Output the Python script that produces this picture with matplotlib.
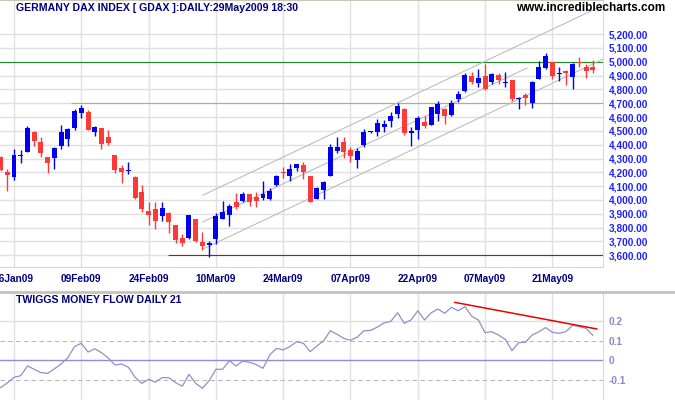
import numpy as np
import matplotlib
matplotlib.use('Agg')
import matplotlib.pyplot as plt
from matplotlib.lines import Line2D

# daily DAX bars, from 22 Jan 2009 up to 29 May 2009
opens = [4311, 4203, 4169, 4320, 4349, 4492, 4420, 4309, 4304, 4390,
         4441, 4523, 4631, 4636, 4494, 4521, 4456, 4325, 4231, 4210,
         4166, 4058, 3921, 3935, 3887, 3906, 3819, 3725, 3723, 3863,
         3694, 3677, 3720, 3865, 3892, 3986, 3993, 4044, 4020, 4017,
         4007, 4111, 4203, 4174, 4229, 4251, 4174, 4009, 4072, 4174,
         4354, 4419, 4364, 4291, 4398, 4490, 4494, 4530, 4571, 4624,
         4658, 4487, 4508, 4564, 4545, 4624, 4658, 4615, 4732, 4788,
         4897, 4848, 4899, 4853, 4902, 4845, 4868, 4730, 4757, 4704,
         4877, 4957, 4998, 4909, 4933, 4889, 4998, 4962, 4962]
highs = [4315, 4224, 4369, 4362, 4535, 4497, 4456, 4311, 4381, 4542,
         4521, 4658, 4689, 4649, 4535, 4521, 4506, 4325, 4255, 4275,
         4170, 4108, 3983, 3983, 3986, 3910, 3820, 3752, 3895, 3865,
         3767, 3706, 3906, 3993, 3971, 4049, 4056, 4044, 4060, 4138,
         4089, 4183, 4237, 4260, 4262, 4275, 4176, 4096, 4140, 4403,
         4453, 4453, 4381, 4374, 4511, 4500, 4584, 4578, 4638, 4701,
         4667, 4530, 4607, 4605, 4672, 4716, 4665, 4723, 4790, 4916,
         4926, 4947, 4983, 4918, 4916, 4923, 4870, 4747, 4772, 4863,
         5005, 5063, 5000, 4960, 4940, 4991, 5036, 4981, 5010]
lows = [4210, 4067, 4145, 4270, 4345, 4393, 4313, 4197, 4224, 4367,
        4390, 4508, 4593, 4508, 4463, 4369, 4398, 4195, 4123, 4190,
        4010, 3916, 3819, 3790, 3848, 3764, 3689, 3668, 3718, 3699,
        3641, 3589, 3684, 3863, 3810, 3935, 3986, 3955, 3952, 4000,
        4000, 4104, 4161, 4140, 4212, 4154, 3984, 4007, 4005, 4174,
        4338, 4306, 4277, 4234, 4381, 4488, 4465, 4490, 4530, 4595,
        4468, 4393, 4443, 4518, 4543, 4573, 4547, 4607, 4711, 4781,
        4837, 4819, 4793, 4839, 4837, 4819, 4716, 4656, 4689, 4663,
        4877, 4947, 4875, 4860, 4832, 4803, 4960, 4882, 4916]
closes = [4217, 4183, 4325, 4326, 4523, 4429, 4342, 4268, 4376, 4492,
          4516, 4646, 4665, 4508, 4528, 4405, 4410, 4217, 4203, 4216,
          4017, 3935, 3894, 3850, 3940, 3843, 3713, 3691, 3892, 3701,
          3670, 3687, 3882, 3913, 3955, 3952, 4044, 3988, 3995, 4044,
          4065, 4174, 4193, 4224, 4260, 4203, 3986, 4087, 4130, 4383,
          4381, 4347, 4318, 4354, 4492, 4495, 4557, 4552, 4607, 4682,
          4487, 4501, 4591, 4535, 4670, 4696, 4610, 4699, 4766, 4904,
          4853, 4882, 4803, 4911, 4868, 4853, 4730, 4738, 4740, 4853,
          4962, 5041, 4899, 4918, 4920, 4986, 4993, 4933, 4940]

# Twiggs Money Flow (21) for the same bars
money_flow = [-0.140, -0.116, -0.087, -0.079, -0.029, -0.046, -0.063, -0.067, -0.044, -0.019,
              0.013, 0.070, 0.087, 0.042, 0.059, 0.039, 0.012, -0.024, -0.019, -0.036,
              -0.087, -0.118, -0.097, -0.112, -0.089, -0.089, -0.114, -0.133, -0.072, -0.118,
              -0.143, -0.104, -0.046, -0.046, -0.002, -0.029, -0.004, -0.010, -0.022, -0.041,
              0.027, 0.061, 0.053, 0.070, 0.095, 0.087, 0.044, 0.073, 0.099, 0.151,
              0.133, 0.112, 0.102, 0.118, 0.151, 0.153, 0.170, 0.191, 0.199, 0.243,
              0.189, 0.206, 0.253, 0.206, 0.243, 0.262, 0.240, 0.271, 0.253, 0.274,
              0.226, 0.206, 0.141, 0.146, 0.129, 0.107, 0.049, 0.090, 0.092, 0.129,
              0.146, 0.167, 0.143, 0.138, 0.146, 0.179, 0.172, 0.163, 0.128]

tick_labels = ['26Jan09', '09Feb09', '24Feb09', '10Mar09', '24Mar09',
               '07Apr09', '22Apr09', '07May09', '21May09']
first_tick = 2   # bar of the first date label
tick_step = 10

# horizontal support / resistance lines: price, first bar, colour
levels = [5000, 4700, 3600]
level_start = [-1, 10.5, 24.9]
level_colors = ['#1f8a2a', '#f5a020', '#e00000']

# trend channel (bar, price) end points
channel_bars = [[30.04, 89.6], [30.04, 78.2], [30.04, 89.6]]
channel_prices = [[4034, 5410], [3841, 4954], [3644, 5020]]

# divergence line on the money flow
tmf_trend_bars = [67.5, 88.6]
tmf_trend_vals = [0.296, 0.160]

W, H = 675, 400
FONT = 'Liberation Sans'
GRID = '#e0e0e0'

fig = plt.figure(figsize=(W / 100, H / 100), dpi=100)
fig.patch.set_facecolor('white')

x = np.arange(len(closes))
o = np.array(opens)
c = np.array(closes)
up = c >= o
col = np.where(up, '#0000f0', '#ff3838')
body_lo = np.minimum(o, c)
body_h = np.maximum(np.abs(c - o), 7)
xmin, xmax = -0.08, 89.52
ticks = first_tick + tick_step * np.arange(len(tick_labels))

# ---- price panel
ax = fig.add_axes([0, 133.3 / H, 603 / W, 266.7 / H])
ax.set_xlim(xmin, xmax)
ax.set_ylim(3517.6, 5446.2)
ax.set_xticks(ticks)
ax.set_xticklabels(tick_labels)
ax.set_yticks(np.arange(3600, 5201, 100))
ax.set_yticklabels([f'{v:,.2f}' for v in np.arange(3600, 5201, 100)])
ax.yaxis.tick_right()
ax.tick_params(axis='y', length=0, pad=4, labelsize=7.3, labelcolor='#2222ff')
ax.tick_params(axis='x', length=0, pad=5, labelsize=7.3, labelcolor='#000080')
for lab in ax.get_xticklabels() + ax.get_yticklabels():
    lab.set_fontfamily(FONT)
    lab.set_fontweight('bold')
ax.grid(True, color=GRID, linewidth=1.0)
ax.set_axisbelow(True)
ax.spines['left'].set_visible(False)
for side in ['right', 'bottom']:
    ax.spines[side].set_color('#d8d8d8')
ax.spines['top'].set_color('#c8c8b8')
ax.spines['top'].set_linewidth(1.5)

for lvl, start, lc in zip(levels, level_start, level_colors):
    ax.hlines(lvl, start, xmax + 1, color=lc, linewidth=0.8, zorder=2)
for bx, by in zip(channel_bars, channel_prices):
    ax.plot(bx, by, color='#bababa', linewidth=0.75, zorder=2)

ax.vlines(x, lows, highs, color=col, linewidth=1.0, zorder=3)
ax.bar(x, body_h, bottom=body_lo, width=0.74, color=col, linewidth=0, zorder=4)

ax.text(16 / 603, 1 - 8 / 266.7, 'GERMANY DAX INDEX [ GDAX ]:DAILY:29May2009 18:30',
        transform=ax.transAxes, ha='left', va='center', fontsize=7.6,
        fontweight='bold', color='#000080', family=FONT)
fig.text(665 / W, 1 - 8 / H, 'www.incrediblecharts.com', ha='right', va='center',
         fontsize=8.5, fontweight='bold', color='black', family=FONT)

# separator between panels
fig.add_artist(Line2D([0, 1], [1 - 291.7 / H] * 2, color='#c4c4b8', linewidth=2))

# ---- money flow panel
ax2 = fig.add_axes([0, 0, 603 / W, 108 / H])
ax2.set_xlim(xmin, xmax)
ax2.set_ylim(-0.203, 0.349)
ax2.set_xticks(ticks)
ax2.set_xticklabels([])
ax2.set_yticks([0.2, 0.1, 0, -0.1])
ax2.set_yticklabels(['0.2', '0.1', '0', '-0.1'])
ax2.yaxis.tick_right()
ax2.tick_params(axis='y', length=0, pad=4, labelsize=7.3, labelcolor='#8a8ac8')
ax2.tick_params(axis='x', length=0)
for lab in ax2.get_yticklabels():
    lab.set_fontfamily(FONT)
    lab.set_fontweight('bold')
ax2.grid(True, axis='x', color=GRID, linewidth=1.0)
ax2.set_axisbelow(True)
for side in ['left', 'top', 'bottom']:
    ax2.spines[side].set_visible(False)
ax2.spines['right'].set_color('#d8d8d8')
ax2.axhline(0.2, color=GRID, linewidth=1.0, zorder=1)
ax2.axhline(0.1, color='#b8b8b8', linewidth=0.8, linestyle=(0, (4, 3)), zorder=1)
ax2.axhline(-0.1, color='#b8b8b8', linewidth=0.8, linestyle=(0, (4, 3)), zorder=1)
ax2.axhline(0, color='#8e8ed0', linewidth=1.0, zorder=1)

ax2.plot(x, money_flow, color='#9090c8', linewidth=0.9, zorder=3)
ax2.plot(tmf_trend_bars, tmf_trend_vals, color='#ee0000', linewidth=1.1, zorder=4)

ax2.text(16 / 603, 1 - 8 / 108, 'TWIGGS MONEY FLOW DAILY 21', transform=ax2.transAxes,
         ha='left', va='center', fontsize=7.6, fontweight='bold', color='#000080', family=FONT)

fig.savefig('out.png', dpi=100)
